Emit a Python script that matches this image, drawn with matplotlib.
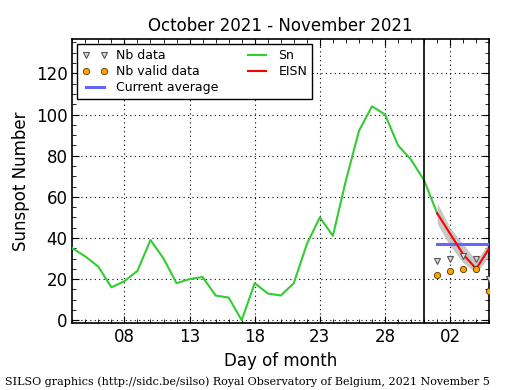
import numpy as np
import matplotlib
matplotlib.use("Agg")
import matplotlib.pyplot as plt
import matplotlib.dates as mdates
from matplotlib.ticker import MultipleLocator

# Daily Sn: 2021-10-04 .. 2021-11-01
sn_start = "2021-10-04"
sn_values = [35, 31, 26, 16, 19, 24, 39, 30, 18, 20, 21, 12, 11, 0, 18, 13, 12, 18,
             37, 50, 41, 68, 92, 104, 100, 85, 78, 68, 52]
# EISN: 2021-11-01 .. 2021-11-05
eisn_start = "2021-11-01"
eisn_values = [52, 42, 32, 25, 35]
eisn_low = [47, 36, 28, 23, 31]
eisn_high = [57, 45, 37, 29, 38]
nb_data = [29, 30, 31, 30, 20]
nb_valid = [22, 24, 25, 25, 14]
current_average = 37
current_average_span = ["2021-11-01", "2021-11-05"]
month_boundary = "2021-10-31"
xtick_dates = ["2021-10-08", "2021-10-13", "2021-10-18", "2021-10-23", "2021-10-28", "2021-11-02"]
xtick_labels = ["08", "13", "18", "23", "28", "02"]
yticks = [0, 20, 40, 60, 80, 100, 120]

sn_dates = np.datetime64(sn_start) + np.arange(len(sn_values))
eisn_dates = np.datetime64(eisn_start) + np.arange(len(eisn_values))

fig = plt.figure(figsize=(5.15, 3.9), dpi=100)
ax = fig.add_axes([0.1404, 0.171, 0.8096, 0.729])

ax.fill_between(eisn_dates, eisn_low, eisn_high, color="#bbbbbb", alpha=0.8, lw=0, zorder=2)
ax.plot(sn_dates, sn_values, color="#33cc33", lw=1.5, zorder=3, label="Sn")
ax.plot(eisn_dates, eisn_values, color="red", lw=1.5, zorder=4, label="EISN")
ax.plot(np.array(current_average_span, dtype="datetime64[D]"), [current_average] * 2,
        color="#6666ff", lw=2.2, zorder=3, label="Current average")
ax.plot(eisn_dates, nb_data, ls="none", marker="v", ms=4, mfc="#dddddd", mec="#555555",
        mew=0.8, zorder=5, label="Nb data", clip_on=True)
ax.plot(eisn_dates, nb_valid, ls="none", marker="o", ms=4.5, mfc="orange", mec="#553300",
        mew=0.6, zorder=6, label="Nb valid data", clip_on=True)
ax.axvline(np.datetime64(month_boundary), color="black", lw=1.2, zorder=4)

ax.set_xlim(np.datetime64("2021-10-04"), np.datetime64("2021-11-05"))
ax.set_ylim(-1.5, 136.7)
ax.set_xticks(np.array(xtick_dates, dtype="datetime64[D]"))
ax.set_xticklabels(xtick_labels)
ax.xaxis.set_minor_locator(mdates.DayLocator())
ax.set_yticks(yticks)
ax.yaxis.set_minor_locator(MultipleLocator(5))
ax.tick_params(which="both", direction="in", top=True, right=True, labelsize=12)
ax.tick_params(which="major", length=5)
ax.tick_params(which="minor", length=3)
ax.grid(True, which="major", ls=(0, (1, 3)), color="black", lw=0.8)
for s in ax.spines.values():
    s.set_linewidth(1.2)

ax.set_title("October 2021 - November 2021", fontsize=12)
ax.set_xlabel("Day of month", fontsize=12)
ax.set_ylabel("Sunspot Number", fontsize=12)

h, l = ax.get_legend_handles_labels()
order = ["Nb data", "Nb valid data", "Current average", "Sn", "EISN"]
hh = [h[l.index(o)] for o in order]
leg = ax.legend(hh, order, ncol=2, loc="upper left", fontsize=9, numpoints=2,
                fancybox=False, edgecolor="black", framealpha=1,
                borderaxespad=0.4, columnspacing=2.1, handlelength=2.0,
                handletextpad=0.7, labelspacing=0.25)
leg.get_frame().set_linewidth(1.0)

fig.text(0.01, 0.022, "SILSO graphics (http://sidc.be/silso) Royal Observatory of Belgium, 2021 November 5",
         family="DejaVu Serif", fontsize=8, va="center")

fig.savefig("out.png", dpi=100)
